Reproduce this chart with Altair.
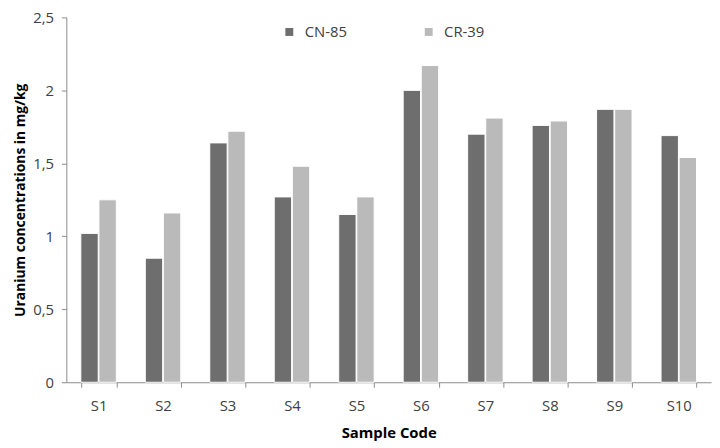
import altair as alt
import pandas as pd

samples = ["S1", "S2", "S3", "S4", "S5", "S6", "S7", "S8", "S9", "S10"]
cn85 = [1.02, 0.85, 1.64, 1.27, 1.15, 2.00, 1.70, 1.76, 1.87, 1.69]
cr39 = [1.25, 1.16, 1.72, 1.48, 1.27, 2.17, 1.81, 1.79, 1.87, 1.54]
series = ["CN-85", "CR-39"]
colors = ["#6e6e6e", "#bababa"]

rows = []
for s, a, b in zip(samples, cn85, cr39):
    rows.append({"Sample": s, "Detector": series[0], "Value": a})
    rows.append({"Sample": s, "Detector": series[1], "Value": b})
df = pd.DataFrame(rows)

FONT = "Open Sans"

chart = alt.Chart(df).mark_bar(stroke="white", strokeWidth=1).encode(
    x=alt.X("Sample:N", sort=samples,
            scale=alt.Scale(paddingInner=0.45, paddingOuter=0.225),
            axis=alt.Axis(title="Sample Code", labelAngle=0, tickBand="extent",
                          domainColor="#8c8c8c", tickColor="#8c8c8c", tickSize=5,
                          labelColor="#404040", labelFontSize=15, labelFont=FONT,
                          labelPadding=12, titleFont=FONT, titleFontSize=15,
                          titleFontWeight="bold", titleColor="#000000", titlePadding=12)),
    xOffset=alt.XOffset("Detector:N", sort=series, scale=alt.Scale(paddingInner=0.04)),
    y=alt.Y("Value:Q",
            scale=alt.Scale(domain=[0, 2.5], nice=False),
            axis=alt.Axis(title="Uranium concentrations in mg/kg",
                          values=[0, 0.5, 1, 1.5, 2, 2.5], grid=False,
                          labelExpr="replace(toString(datum.value), '.', ',')",
                          domainColor="#8c8c8c", tickColor="#8c8c8c", tickSize=5,
                          labelColor="#404040", labelFontSize=15, labelFont=FONT,
                          labelPadding=8, titleFont=FONT, titleFontSize=14,
                          titleFontWeight="bold", titleColor="#000000", titlePadding=5)),
    color=alt.Color("Detector:N", sort=series,
                    scale=alt.Scale(domain=series, range=colors),
                    legend=alt.Legend(title=None, orient="none", direction="horizontal",
                                      legendX=218, legendY=7, symbolType="square",
                                      symbolSize=64, symbolStrokeWidth=0,
                                      labelFont=FONT, labelFontSize=15,
                                      labelColor="#404040", columnPadding=75,
                                      labelOffset=8)),
).properties(
    width=652, height=369,
    autosize=alt.AutoSizeParams(type="none"),
    padding={"left": 59, "top": 7, "right": 1, "bottom": 64},
).configure_view(stroke=None)

chart.save("out.html", embed_options={"renderer": "svg", "actions": False})
